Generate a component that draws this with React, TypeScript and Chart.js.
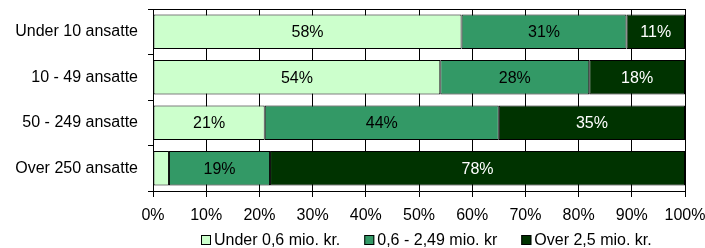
import React, { useEffect, useRef } from 'react';
import { Chart, registerables } from 'chart.js';

Chart.register(...registerables);

const categories = ['Under 10 ansatte', '10 - 49 ansatte', '50 - 249 ansatte', 'Over 250 ansatte'];
const seriesNames = ['Under 0,6 mio. kr.', '0,6 - 2,49 mio. kr', 'Over 2,5 mio. kr.'];
const under06 = [58, 54, 21, 3];
const mid0624 = [31, 28, 44, 19];
const over25 = [11, 18, 35, 78];
const seriesColors = ['#CCFFCC', '#339966', '#003300'];
const labelColors = ['#000000', '#000000', '#FFFFFF'];
const xMin = 0;
const xMax = 100;
const xStep = 10;

const FONT_FAMILY = '"Liberation Sans", Arial, sans-serif';
const FONT_SIZE = 16;

const segmentLabels = {
  id: 'segmentLabels',
  afterDatasetsDraw(chart: any) {
    const ctx = chart.ctx;
    ctx.save();
    ctx.font = `${FONT_SIZE}px ${FONT_FAMILY}`;
    ctx.textAlign = 'center';
    ctx.textBaseline = 'middle';
    chart.data.datasets.forEach((ds: any, i: number) => {
      const meta = chart.getDatasetMeta(i);
      meta.data.forEach((el: any, j: number) => {
        const v = ds.data[j];
        if (v < 5) return;
        const p = el.getProps(['x', 'base', 'y'], true);
        ctx.fillStyle = labelColors[i];
        ctx.fillText(v + '%', (p.x + p.base) / 2, p.y + 1);
      });
    });
    ctx.restore();
  },
};

const frameTop = {
  id: 'frameTop',
  afterDraw(chart: any) {
    const { ctx, chartArea } = chart;
    ctx.save();
    ctx.strokeStyle = '#000';
    ctx.lineWidth = 1;
    ctx.beginPath();
    ctx.moveTo(chartArea.left, Math.round(chartArea.top) + 0.5);
    ctx.lineTo(chartArea.right, Math.round(chartArea.top) + 0.5);
    ctx.stroke();
    ctx.restore();
  },
};

const customLegend = {
  id: 'customLegend',
  afterDraw(chart: any) {
    const { ctx, chartArea } = chart;
    ctx.save();
    ctx.font = `${FONT_SIZE}px ${FONT_FAMILY}`;
    const box = 10;
    const gapBoxText = 3;
    const gapItems = 24;
    const widths = seriesNames.map((n) => ctx.measureText(n).width);
    const total = widths.reduce((a, w) => a + box + gapBoxText + w, 0) + gapItems * (seriesNames.length - 1);
    const center = (chartArea.left + chartArea.right) / 2 + 7;
    let x = Math.round(center - total / 2);
    const yMid = 240;
    ctx.textBaseline = 'middle';
    ctx.textAlign = 'left';
    seriesNames.forEach((n, i) => {
      ctx.fillStyle = seriesColors[i];
      ctx.fillRect(x, yMid - 5, box, box);
      ctx.strokeStyle = '#000';
      ctx.lineWidth = 1;
      ctx.strokeRect(x + 0.5, yMid - 5 + 0.5, box - 1, box - 1);
      ctx.fillStyle = '#000';
      ctx.fillText(n, x + box + gapBoxText, yMid + 1);
      x += box + gapBoxText + widths[i] + gapItems;
    });
    ctx.restore();
  },
};

export default function App() {
  const ref = useRef<HTMLCanvasElement | null>(null);

  useEffect(() => {
    if (!ref.current) return;
    const datasets = [under06, mid0624, over25].map((d, i) => ({
      label: seriesNames[i],
      data: d,
      backgroundColor: seriesColors[i],
      borderColor: '#000000',
      borderWidth: 1,
      borderSkipped: false,
      barPercentage: 0.76,
      categoryPercentage: 1,
    }));
    const chart = new Chart(ref.current, {
      type: 'bar',
      data: { labels: categories, datasets },
      plugins: [segmentLabels, frameTop, customLegend],
      options: {
        indexAxis: 'y',
        animation: false,
        responsive: false,
        devicePixelRatio: 1,
        layout: { padding: { top: 9, right: 20, left: 0, bottom: 0 } },
        plugins: {
          legend: { display: false },
          tooltip: { enabled: false },
        },
        scales: {
          x: {
            type: 'linear',
            stacked: true,
            min: xMin,
            max: xMax,
            ticks: {
              stepSize: xStep,
              callback: (v: any) => v + '%',
              color: '#000',
              font: { family: FONT_FAMILY, size: FONT_SIZE },
              padding: 9,
              maxRotation: 0,
              autoSkip: false,
            },
            grid: { color: '#000', tickLength: 6, lineWidth: 1 },
            border: { color: '#000' },
            afterFit: (s: any) => {
              s.height = 57;
              s.paddingLeft = 0;
              s.paddingRight = 0;
            },
          },
          y: {
            type: 'category',
            stacked: true,
            ticks: {
              color: '#000',
              font: { family: FONT_FAMILY, size: FONT_SIZE },
              padding: 10,
            },
            grid: { drawOnChartArea: false, color: '#000', tickLength: 5, offset: true },
            border: { color: '#000' },
            afterFit: (s: any) => {
              s.width = 153;
              s.paddingTop = 0;
              s.paddingBottom = 0;
            },
          },
        },
      },
    });
    return () => chart.destroy();
  }, []);

  return (
    <div style={{ position: 'absolute', left: 0, top: 0, width: 705, height: 248, background: '#fff' }}>
      <canvas ref={ref} width={705} height={248} style={{ width: 705, height: 248, display: 'block' }} />
    </div>
  );
}
